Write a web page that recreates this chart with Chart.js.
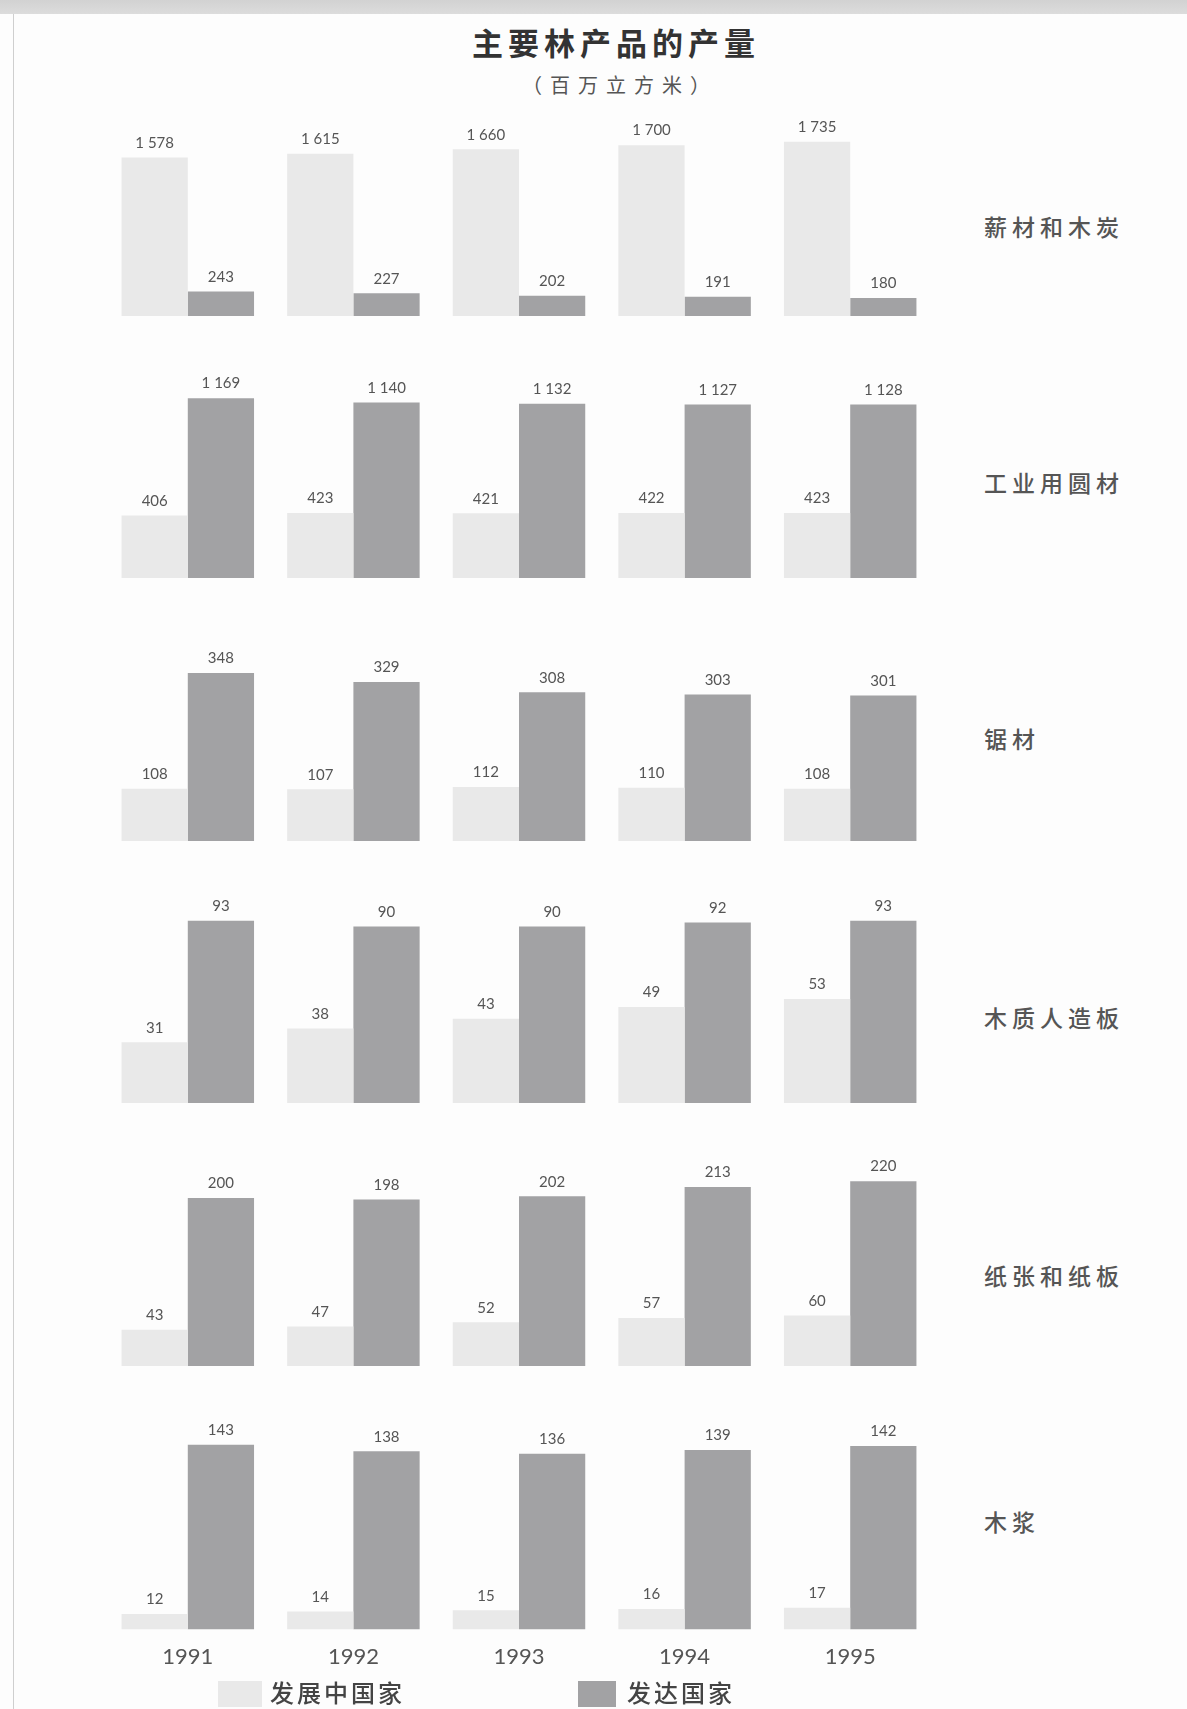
<!DOCTYPE html>
<html lang="zh">
<head>
<meta charset="utf-8">
<title>主要林产品的产量</title>
<script src="https://cdn.jsdelivr.net/npm/chart.js@4.4.1/dist/chart.umd.min.js"></script>
<style>
    html, body {
        margin: 0;
        padding: 0;
        background: #ffffff;
    }
    #page {
        position: relative;
        width: 1187px;
        height: 1709px;
        overflow: hidden;
        background: #fdfdfd;
        font-family: "Noto Sans CJK SC", sans-serif;
    }
    /* bordo grigio della scansione */
    #topBand {
        position: absolute;
        left: 0; top: 0;
        width: 1187px; height: 14px;
        background: linear-gradient(#d2d2d2, #dcdcdc);
    }
    #leftLine {
        position: absolute;
        left: 13px; top: 14px;
        width: 1px; height: 1695px;
        background: #cfcfcf;
    }
    #title {
        position: absolute;
        left: 0; width: 1232px;
        top: 19px;
        text-align: center;
        font-size: 31px;
        font-weight: 700;
        letter-spacing: 5px;
        color: #333;
    }
    #subtitle {
        position: absolute;
        left: 0; width: 1240px;
        top: 70px;
        text-align: center;
        font-size: 20px;
        letter-spacing: 8px;
        color: #555;
    }
    .panel {
        position: absolute;
        left: 105px;
        width: 828px;
    }
    .rowLabel {
        position: absolute;
        left: 984px;
        font-size: 23px;
        font-weight: 500;
        letter-spacing: 5px;
        color: #555;
        transform: translateY(-50%);
        white-space: nowrap;
    }
    .legendBox {
        position: absolute;
        height: 26px;
    }
    .legendText {
        position: absolute;
        font-size: 24px;
        font-weight: 500;
        letter-spacing: 3px;
        color: #444;
        white-space: nowrap;
    }
</style>
</head>
<body>
<div id="page">
    <div id="topBand"></div>
    <div id="leftLine"></div>
    <div id="title">主要林产品的产量</div>
    <div id="subtitle">（百万立方米）</div>
</div>

<script>
// Dati (milioni di m³)
const years = ['1991', '1992', '1993', '1994', '1995'];
const seriesNames = ['发展中国家', '发达国家'];
const products = ['薪材和木炭', '工业用圆材', '锯材', '木质人造板', '纸张和纸板', '木浆'];

const fuelwoodDeveloping = [1578, 1615, 1660, 1700, 1735];
const fuelwoodDeveloped = [243, 227, 202, 191, 180];
const roundwoodDeveloping = [406, 423, 421, 422, 423];
const roundwoodDeveloped = [1169, 1140, 1132, 1127, 1128];
const sawnwoodDeveloping = [108, 107, 112, 110, 108];
const sawnwoodDeveloped = [348, 329, 308, 303, 301];
const panelsDeveloping = [31, 38, 43, 49, 53];
const panelsDeveloped = [93, 90, 90, 92, 93];
const paperDeveloping = [43, 47, 52, 57, 60];
const paperDeveloped = [200, 198, 202, 213, 220];
const pulpDeveloping = [12, 14, 15, 16, 17];
const pulpDeveloped = [143, 138, 136, 139, 142];

// massimo dell'asse y di ogni pannello (ogni pannello ha la sua scala)
const panelMax = [1990, 1300, 414, 102, 238, 156];

const lightColor = '#e9e9e9';
const darkColor = '#a2a2a4';

const panelData = [
    [fuelwoodDeveloping, fuelwoodDeveloped],
    [roundwoodDeveloping, roundwoodDeveloped],
    [sawnwoodDeveloping, sawnwoodDeveloped],
    [panelsDeveloping, panelsDeveloped],
    [paperDeveloping, paperDeveloped],
    [pulpDeveloping, pulpDeveloped]
];

// posizione verticale (px) delle etichette a destra
const rowLabelTop = [226, 482, 738, 1017, 1275, 1521];

// Formatta i numeri con lo spazio come separatore delle migliaia
function formatValue(v) {
    return String(v).replace(/\B(?=(\d{3})+(?!\d))/g, ' ');
}

// Etichette dei valori sopra le barre
const valueLabels = {
    id: 'valueLabels',
    afterDatasetsDraw(chart) {
        const ctx = chart.ctx;
        ctx.save();
        ctx.font = '15px Lato, sans-serif';
        ctx.fillStyle = '#555';
        ctx.textAlign = 'center';
        ctx.textBaseline = 'bottom';
        chart.data.datasets.forEach((ds, i) => {
            chart.getDatasetMeta(i).data.forEach((bar, j) => {
                ctx.fillText(formatValue(ds.data[j]), bar.x, bar.y - 7);
            });
        });
        ctx.restore();
    }
};

const page = document.getElementById('page');
const firstBase = 316;
const pitch = 262.4;
const areaHeight = 225;

panelData.forEach((pair, i) => {
    const isLast = i === panelData.length - 1;
    const base = firstBase + i * pitch;

    const wrap = document.createElement('div');
    wrap.className = 'panel';
    wrap.style.top = (base - areaHeight) + 'px';
    wrap.style.height = (isLast ? areaHeight + 56 : areaHeight) + 'px';
    const canvas = document.createElement('canvas');
    wrap.appendChild(canvas);
    page.appendChild(wrap);

    const label = document.createElement('div');
    label.className = 'rowLabel';
    label.style.top = rowLabelTop[i] + 'px';
    label.textContent = products[i];
    page.appendChild(label);

    new Chart(canvas.getContext('2d'), {
        type: 'bar',
        data: {
            labels: years,
            datasets: [
                {
                    label: seriesNames[0],
                    data: pair[0],
                    backgroundColor: lightColor,
                    categoryPercentage: 0.8,
                    barPercentage: 1.0
                },
                {
                    label: seriesNames[1],
                    data: pair[1],
                    backgroundColor: darkColor,
                    categoryPercentage: 0.8,
                    barPercentage: 1.0
                }
            ]
        },
        options: {
            responsive: true,
            maintainAspectRatio: false,
            animation: false,
            layout: {
                padding: { top: 25, left: 0, right: 0, bottom: 0 }
            },
            plugins: {
                legend: { display: false },
                tooltip: { enabled: false }
            },
            scales: {
                x: {
                    display: isLast,
                    grid: { display: false, drawTicks: false },
                    border: { display: false },
                    ticks: {
                        padding: 14,
                        color: '#555',
                        font: { size: 22, family: 'Lato, sans-serif' }
                    }
                },
                y: {
                    display: false,
                    min: 0,
                    max: panelMax[i]
                }
            }
        },
        plugins: [valueLabels]
    });
});

// Legenda in basso
const legendPos = [
    { box: 218, boxW: 44, text: 270 },
    { box: 578, boxW: 38, text: 627 }
];
seriesNames.forEach((name, i) => {
    const box = document.createElement('div');
    box.className = 'legendBox';
    box.style.left = legendPos[i].box + 'px';
    box.style.width = legendPos[i].boxW + 'px';
    box.style.top = '1681px';
    box.style.background = i === 0 ? lightColor : darkColor;
    page.appendChild(box);

    const txt = document.createElement('div');
    txt.className = 'legendText';
    txt.style.left = legendPos[i].text + 'px';
    txt.style.top = '1674px';
    txt.textContent = name;
    page.appendChild(txt);
});
</script>
</body>
</html>
